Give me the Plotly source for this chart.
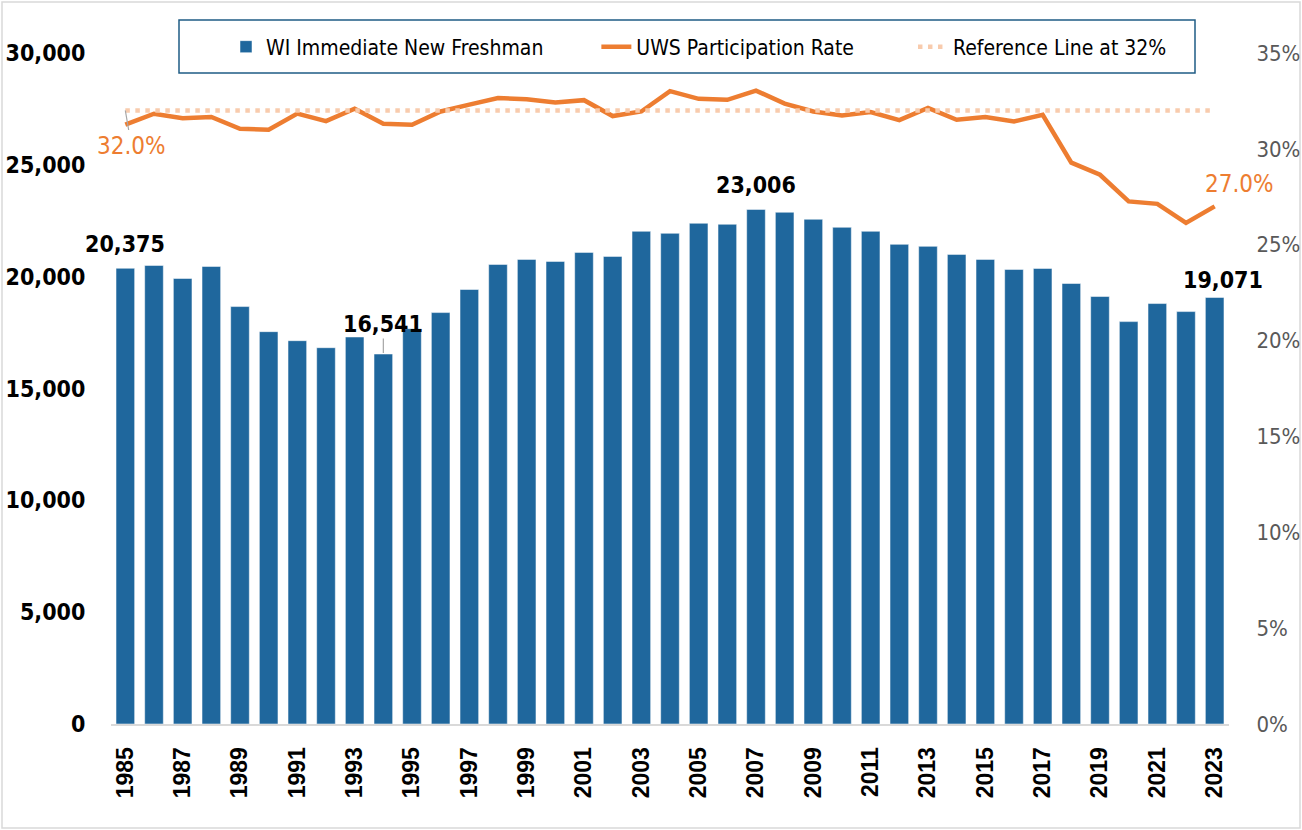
import plotly.graph_objects as go

years = [str(y) for y in range(1985, 2024)]
freshman = [20375, 20502, 19919, 20457, 18663, 17541, 17138, 16824, 17303, 16541,
            17676, 18394, 19426, 20547, 20772, 20682, 21086, 20906, 22028, 21938,
            22387, 22342, 23006, 22880, 22566, 22207, 22028, 21445, 21355, 20996,
            20772, 20323, 20368, 19695, 19112, 17990, 18798, 18439, 19071]
participation = [31.26, 31.83, 31.60, 31.66, 31.05, 31.00, 31.84, 31.45, 32.09, 31.31,
                 31.26, 31.95, 32.31, 32.65, 32.59, 32.42, 32.54, 31.71, 31.95, 33.01,
                 32.61, 32.56, 33.04, 32.36, 31.95, 31.74, 31.92, 31.50, 32.13, 31.52,
                 31.66, 31.43, 31.78, 29.28, 28.65, 27.26, 27.13, 26.14, 27.00]
reference = [32.0] * len(years)
tick_years = [str(y) for y in range(1985, 2024, 2)]
left_ticks = [0, 5000, 10000, 15000, 20000, 25000, 30000]
right_ticks = [0, 0.05, 0.10, 0.15, 0.20, 0.25, 0.30, 0.35]

BLUE = "#1F679D"
ORANGE = "#ED7D31"
PEACH = "#F8CBAD"
FONT = "DejaVu Sans Condensed, DejaVu Sans, sans-serif"
NB = "\u00a0"

fig = go.Figure()
fig.add_trace(go.Bar(
    x=years, y=freshman, name="WI Immediate New Freshman" + NB * 8,
    marker=dict(color=BLUE, line=dict(color="rgba(255,255,255,0.5)", width=1)),
    width=0.65, yaxis="y",
))
fig.add_trace(go.Scatter(
    x=years, y=[v / 100 for v in participation], name="UWS Participation Rate" + NB * 9,
    mode="lines", line=dict(color=ORANGE, width=4.5), yaxis="y2",
))
fig.add_trace(go.Scatter(
    x=years, y=[v / 100 for v in reference], name="Reference Line at 32%",
    mode="lines", line=dict(color=PEACH, width=4.5, dash="4.5px,5.5px"), yaxis="y2",
))

LABEL_FONT = dict(family=FONT, size=23, color="black", weight="bold")

def bar_label(i, yshift, xshift=0):
    fig.add_annotation(x=i, y=freshman[i], xref="x", yref="y",
                       text=f"{freshman[i]:,}", showarrow=False,
                       yanchor="middle", yshift=yshift, xshift=xshift,
                       font=LABEL_FONT)

bar_label(0, 24)
bar_label(years.index("2007"), 24)
bar_label(len(years) - 1, 17, 8)
i94 = years.index("1994")
fig.add_annotation(x=i94, y=freshman[i94], xref="x", yref="y",
                   text=f"{freshman[i94]:,}", showarrow=True, arrowhead=0,
                   arrowwidth=1.2, arrowcolor="#A6A6A6", ax=0, ay=-30, standoff=1,
                   font=LABEL_FONT)
fig.add_annotation(x=0, y=reference[0] / 100, xref="x", yref="y2",
                   text=f"{reference[0]:.1f}%", showarrow=True, arrowhead=0,
                   arrowwidth=1.2, arrowcolor="#A6A6A6", ax=6, ay=35, standoff=0,
                   font=dict(family=FONT, size=24, color=ORANGE))
fig.add_annotation(x=len(years) - 1, y=participation[-1] / 100, xref="x", yref="y2",
                   text=f"{participation[-1]:.1f}%", showarrow=False,
                   xshift=25, yshift=22,
                   font=dict(family=FONT, size=24, color=ORANGE))

W, H = 1302, 830
# plot area in px: x 111..1229, y 53..724
def px_x(p):
    return (p - 111) / 1118
def px_y(p):
    return (724 - p) / 671

shapes = [
    dict(type="rect", xref="paper", yref="paper",
         x0=px_x(179), x1=px_x(1195), y0=px_y(73), y1=px_y(20),
         line=dict(color="#1F5C85", width=1.5), fillcolor="rgba(0,0,0,0)", layer="below"),
    dict(type="rect", xref="paper", yref="paper",
         x0=px_x(2), x1=px_x(1300), y0=px_y(828), y1=px_y(2),
         line=dict(color="#D9D9D9", width=1.5), fillcolor="rgba(0,0,0,0)", layer="below"),
]

fig.update_layout(
    width=W, height=H,
    margin=dict(l=111, r=73, t=53, b=106, autoexpand=False),
    paper_bgcolor="white", plot_bgcolor="white",
    showlegend=True,
    legend=dict(orientation="h", xref="container", yref="container",
                x=226 / W, y=1 - 47 / H, xanchor="left", yanchor="middle",
                font=dict(family=FONT, size=21, color="black"),
                bgcolor="rgba(0,0,0,0)", borderwidth=0, traceorder="normal"),
    xaxis=dict(type="category", tickmode="array", tickvals=tick_years, ticktext=tick_years,
               tickangle=-90, showgrid=False, showline=True, linecolor="#D9D9D9", linewidth=2,
               ticks="outside", ticklen=12, tickcolor="rgba(0,0,0,0)", automargin=False,
               tickfont=dict(family="Liberation Sans, Arial, sans-serif", size=23,
                             color="black", weight="bold"),
               range=[-0.5, len(years) - 0.5]),
    yaxis=dict(range=[0, 30000], tickvals=left_ticks, tickformat=",", showgrid=False,
               zeroline=False, showline=False, ticks="outside", ticklen=20,
               tickcolor="rgba(0,0,0,0)", automargin=False,
               tickfont=dict(family=FONT, size=23, color="black", weight="bold")),
    yaxis2=dict(range=[0, 0.35], tickvals=right_ticks, tickformat=".0%", overlaying="y",
                side="right", showgrid=False, zeroline=False, showline=False,
                ticks="outside", ticklen=22, tickcolor="rgba(0,0,0,0)", automargin=False,
                tickfont=dict(family=FONT, size=22, color="#595959")),
    shapes=shapes,
)

fig.write_html("out.html", config={"displayModeBar": False},
               post_script="document.body.style.margin='0';")
